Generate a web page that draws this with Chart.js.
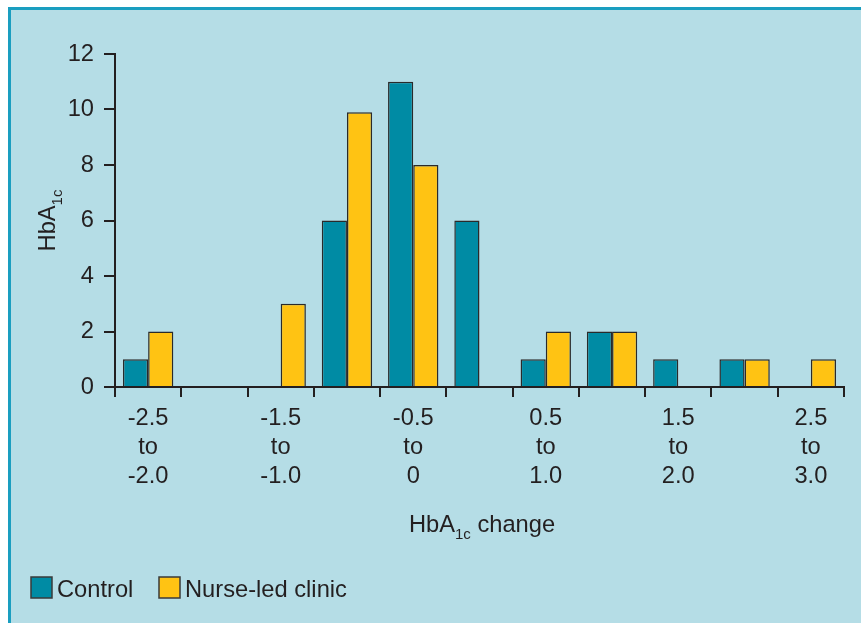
<!DOCTYPE html>
<html>
<head>
<meta charset="utf-8">
<script src="https://cdn.jsdelivr.net/npm/chart.js@4"></script>
<style>
  html, body { margin: 0; padding: 0; background: #fff; }
  canvas { display: block; }
</style>
</head>
<body>
<canvas id="chart" width="861" height="623"></canvas>
<script>
// data
const categories = [
  "-2.5 to -2.0", "-2.0 to -1.5", "-1.5 to -1.0", "-1.0 to -0.5",
  "-0.5 to 0", "0 to 0.5", "0.5 to 1.0", "1.0 to 1.5",
  "1.5 to 2.0", "2.0 to 2.5", "2.5 to 3.0"
];
const controlCounts = [1, 0, 0, 6, 11, 6, 1, 2, 1, 1, 0];
const nurseCounts   = [2, 0, 3, 9.9, 8, 0, 2, 2, 0, 1, 1];
const seriesNames = ["Control", "Nurse-led clinic"];
const yMin = 0, yMax = 12, yStep = 2;

const FONT = "'Liberation Sans', Arial, Helvetica, sans-serif";
const INK = "#231f20";
const BG = "#b5dde6";
const FRAME = "#1a9ec0";
const TXT = 23.7;

// background panel + frame
const framePlugin = {
  id: "frame",
  beforeDraw(chart) {
    const ctx = chart.ctx;
    ctx.save();
    ctx.fillStyle = "#fff";
    ctx.fillRect(0, 0, chart.width, chart.height);
    ctx.fillStyle = BG;
    ctx.fillRect(8, 7, chart.width - 8, chart.height - 7);
    ctx.fillStyle = FRAME;
    ctx.fillRect(8, 7, chart.width - 8, 3);
    ctx.fillRect(8, 7, 3, chart.height - 7);
    ctx.restore();
  }
};

// axis titles with subscript + legend
function drawSubTitle(ctx, x, y, main, sub, rest) {
  ctx.font = TXT + "px " + FONT;
  const w1 = ctx.measureText(main).width;
  ctx.font = "15px " + FONT;
  const w2 = ctx.measureText(sub).width;
  ctx.font = TXT + "px " + FONT;
  const w3 = rest ? ctx.measureText(rest).width : 0;
  let cx = x - (w1 + w2 + w3) / 2;
  ctx.fillText(main, cx, y);
  cx += w1;
  ctx.font = "15px " + FONT;
  ctx.fillText(sub, cx, y + 7);
  cx += w2;
  if (rest) {
    ctx.font = TXT + "px " + FONT;
    ctx.fillText(rest, cx, y);
  }
}

const annotPlugin = {
  id: "annot",
  afterDraw(chart) {
    const ctx = chart.ctx;
    const a = chart.chartArea;
    ctx.save();
    ctx.fillStyle = INK;
    ctx.textAlign = "left";
    ctx.textBaseline = "alphabetic";

    // x title
    drawSubTitle(ctx, 482, 532, "HbA", "1c", " change");

    // y title
    ctx.save();
    ctx.translate(55, (a.top + a.bottom) / 2);
    ctx.rotate(-Math.PI / 2);
    drawSubTitle(ctx, 0, 0, "HbA", "1c", "");
    ctx.restore();

    // legend
    const items = chart.data.datasets.map(d => ({ label: d.label, color: d.backgroundColor }));
    const boxX = [31, 159];
    items.forEach((it, i) => {
      ctx.fillStyle = it.color;
      ctx.fillRect(boxX[i], 577, 21, 21);
      ctx.strokeStyle = "#3a3a3a";
      ctx.lineWidth = 1.5;
      ctx.strokeRect(boxX[i], 577, 21, 21);
      ctx.fillStyle = INK;
      ctx.font = TXT + "px " + FONT;
      ctx.fillText(it.label, boxX[i] + 26, 597);
    });
    ctx.restore();
  }
};

new Chart(document.getElementById("chart"), {
  type: "bar",
  data: {
    labels: categories,
    datasets: [
      {
        label: seriesNames[0],
        data: controlCounts,
        backgroundColor: "#008ba4",
        borderColor: "#2a2a2a",
        borderWidth: 1.5
      },
      {
        label: seriesNames[1],
        data: nurseCounts,
        backgroundColor: "#ffc313",
        borderColor: "#2a2a2a",
        borderWidth: 1.5
      }
    ]
  },
  options: {
    responsive: false,
    animation: false,
    devicePixelRatio: 1,
    layout: { padding: { left: 0, top: 54, right: 17, bottom: 0 } },
    plugins: {
      legend: { display: false },
      tooltip: { enabled: false }
    },
    datasets: {
      bar: { categoryPercentage: 0.76, barPercentage: 1.0 }
    },
    scales: {
      x: {
        afterFit(s) { s.height = 623 - 387; },
        grid: {
          display: true,
          offset: true,
          drawOnChartArea: false,
          drawTicks: true,
          tickLength: 10,
          color: INK,
          lineWidth: 2
        },
        border: { display: true, color: INK, width: 2 },
        ticks: {
          autoSkip: false,
          maxRotation: 0,
          padding: 7,
          color: INK,
          font: { family: FONT, size: TXT, lineHeight: 1.23 },
          callback(v, i) { return i % 2 === 0 ? categories[i].split(" ") : ""; }
        }
      },
      y: {
        min: yMin,
        max: yMax,
        afterFit(s) { s.width = 115; },
        grid: {
          display: true,
          drawOnChartArea: false,
          drawTicks: true,
          tickLength: 11,
          color: INK,
          lineWidth: 2
        },
        border: { display: true, color: INK, width: 2 },
        ticks: {
          stepSize: yStep,
          padding: 10,
          color: INK,
          font: { family: FONT, size: TXT }
        }
      }
    }
  },
  plugins: [framePlugin, annotPlugin]
});
</script>
</body>
</html>
